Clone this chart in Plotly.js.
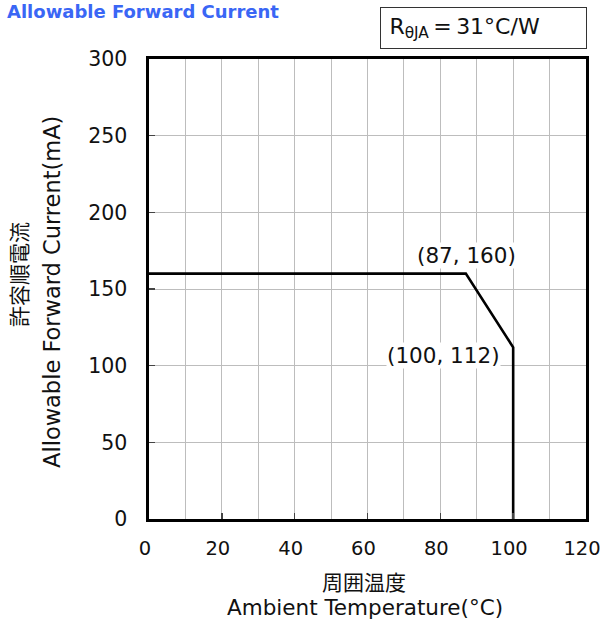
<!DOCTYPE html>
<html>
<head>
<meta charset="utf-8">
<script src="https://cdn.plot.ly/plotly-3.0.1.min.js"></script>
<style>html,body{margin:0;padding:0;background:#fff;}#chart{width:604px;height:624px;}</style>
</head>
<body>
<div id="chart"></div>
<script>
const temperature = [0, 87, 100, 100];
const current = [160, 160, 112, 0];
const pointLabels = ["(87, 160)", "(100, 112)"];
const pointLabelX = [87.2, 80.8];
const pointLabelY = [172, 106.5];
const xTicks = [0, 20, 40, 60, 80, 100, 120];
const yTicks = [0, 50, 100, 150, 200, 250, 300];

const yTickFont = {family: "DejaVu Sans", size: 20.5, color: "#111"};
const xTickFont = {family: "DejaVu Sans", size: 19.5, color: "#111"};

const trace = {
  x: temperature, y: current, mode: "lines", type: "scatter",
  line: {color: "#000", width: 2.6}, hoverinfo: "skip", showlegend: false
};

const annotations = pointLabels.map((t, i) => ({
  x: pointLabelX[i], y: pointLabelY[i], xref: "x", yref: "y",
  text: t, showarrow: false, bgcolor: "#fff",
  font: {family: "DejaVu Sans", size: 21.5, color: "#111"},
  xanchor: "center", yanchor: "middle", borderpad: 0
}));

annotations.push({
  xref: "paper", yref: "paper", x: (380 - 149) / 437, y: (519 - 7) / 460,
  xanchor: "left", yanchor: "top",
  text: "\u2009R<sub>θJA</sub>\u2009=\u200931°C/W", showarrow: false,
  width: 197, height: 32, align: "left", valign: "middle",
  bordercolor: "#333", borderwidth: 1, borderpad: 4, bgcolor: "#fff",
  font: {family: "DejaVu Sans", size: 22, color: "#111"}
});
annotations.push({
  xref: "paper", yref: "paper", x: (364 - 149) / 437, y: (519 - 581) / 460,
  xanchor: "center", yanchor: "middle", showarrow: false,
  text: "周囲温度", font: {family: "Noto Sans CJK JP", size: 21, color: "#111"}
});
annotations.push({
  xref: "paper", yref: "paper", x: (365 - 149) / 437, y: (519 - 607) / 460,
  xanchor: "center", yanchor: "middle", showarrow: false,
  text: "Ambient Temperature(°C)", font: {family: "DejaVu Sans", size: 21.5, color: "#111"}
});
annotations.push({
  xref: "paper", yref: "paper", x: (18 - 149) / 437, y: (519 - 275) / 460,
  xanchor: "center", yanchor: "middle", showarrow: false, textangle: -90,
  text: "許容順電流", font: {family: "Noto Sans CJK JP", size: 21, color: "#111"}
});
annotations.push({
  xref: "paper", yref: "paper", x: (52 - 149) / 437, y: (519 - 292) / 460,
  xanchor: "center", yanchor: "middle", showarrow: false, textangle: -90,
  text: "Allowable Forward Current(mA)", font: {family: "DejaVu Sans", size: 22.5, color: "#111"}
});

const layout = {
  width: 604, height: 624,
  margin: {l: 149, r: 18, t: 59, b: 105},
  paper_bgcolor: "#fff", plot_bgcolor: "#fff",
  title: {
    text: "<b>Allowable Forward Current</b>",
    xref: "container", yref: "container", x: 7 / 604, xanchor: "left",
    y: 1 - 12 / 624, yanchor: "middle",
    font: {family: "DejaVu Sans", size: 18, color: "#3a66f5"}
  },
  xaxis: {
    range: [0, 120], tickvals: xTicks, ticktext: xTicks.map(String),
    showgrid: true, gridcolor: "#bdbdbd", gridwidth: 1,
    minor: {dtick: 10, tick0: 0, showgrid: true, gridcolor: "#bdbdbd", gridwidth: 1, ticks: ""},
    ticks: "inside", ticklen: 6, tickcolor: "#444", tickwidth: 1.5,
    showline: true, linecolor: "#000", linewidth: 2.6, mirror: true,
    zeroline: false, tickfont: xTickFont, fixedrange: true,
    ticklabeloverflow: "allow", ticklabelstandoff: 10, ticklabelshift: -4
  },
  yaxis: {
    range: [0, 300], tickvals: yTicks, ticktext: yTicks.map(String),
    showgrid: true, gridcolor: "#bdbdbd", gridwidth: 1,
    ticks: "inside", ticklen: 6, tickcolor: "#444", tickwidth: 1.5,
    showline: true, linecolor: "#000", linewidth: 2.6, mirror: true,
    zeroline: false, tickfont: yTickFont, fixedrange: true, ticklabelstandoff: 15
  },
  annotations: annotations
};

Plotly.newPlot("chart", [trace], layout, {displayModeBar: false, staticPlot: true});
</script>
</body>
</html>
